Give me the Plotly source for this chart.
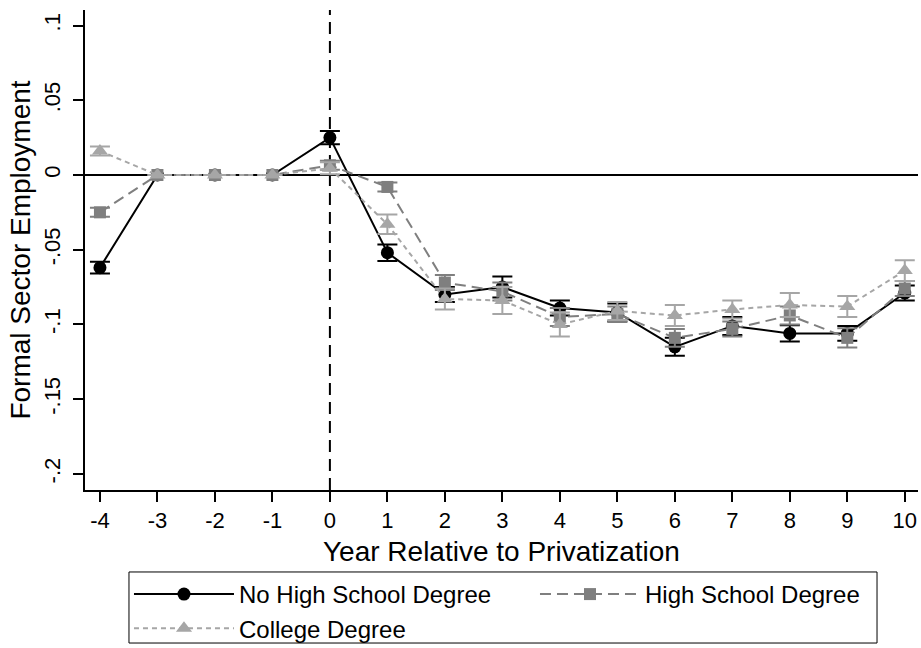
import plotly.graph_objects as go

years = [-4, -3, -2, -1, 0, 1, 2, 3, 4, 5, 6, 7, 8, 9, 10]
year_labels = ["-4", "-3", "-2", "-1", "0", "1", "2", "3", "4", "5", "6", "7", "8", "9", "10"]

nohs = [-0.062, 0, 0, 0, 0.025, -0.052, -0.080, -0.075, -0.089, -0.092, -0.115, -0.101, -0.106, -0.106, -0.079]
nohs_err = [0.004, 0, 0, 0, 0.0045, 0.0055, 0.005, 0.007, 0.005, 0.006, 0.006, 0.006, 0.0055, 0.005, 0.005]

hs = [-0.025, 0, 0, 0, 0.0065, -0.008, -0.072, -0.078, -0.095, -0.093, -0.109, -0.103, -0.094, -0.109, -0.076]
hs_err = [0.003, 0, 0, 0, 0.003, 0.003, 0.005, 0.006, 0.006, 0.005, 0.006, 0.005, 0.006, 0.0065, 0.005]

col = [0.016, 0, 0, 0, 0.0045, -0.033, -0.083, -0.084, -0.100, -0.091, -0.094, -0.090, -0.087, -0.088, -0.064]
col_err = [0.003, 0, 0, 0, 0.004, 0.0065, 0.007, 0.009, 0.008, 0.006, 0.007, 0.006, 0.008, 0.007, 0.007]

ytick_vals = [-0.2, -0.15, -0.1, -0.05, 0, 0.05, 0.1]
ytick_text = ["-.2", "-.15", "-.1", "-.05", "0", ".05", ".1"]

FONT = "Liberation Sans, Arial, sans-serif"
BLACK = "#000000"
GRAY1 = "#7f7f7f"
GRAY2 = "#a6a6a6"

fig = go.Figure()

fig.add_trace(go.Scatter(
    x=years, y=nohs, name="No High School Degree", mode="lines+markers", legend="legend",
    line=dict(color=BLACK, width=2),
    marker=dict(symbol="circle", size=13, color=BLACK),
    error_y=dict(type="data", array=nohs_err, visible=True, color=BLACK, thickness=2, width=10),
))
fig.add_trace(go.Scatter(
    x=years, y=hs, name="High School Degree", mode="lines+markers", legend="legend2",
    line=dict(color=GRAY1, width=2, dash="11px,6px"),
    marker=dict(symbol="square", size=12, color=GRAY1),
    error_y=dict(type="data", array=hs_err, visible=True, color=GRAY1, thickness=2, width=10),
))
fig.add_trace(go.Scatter(
    x=years, y=col, name="College Degree", mode="lines+markers", legend="legend",
    line=dict(color=GRAY2, width=2, dash="5px,4px"),
    marker=dict(symbol="triangle-up", size=14, color=GRAY2),
    error_y=dict(type="data", array=col_err, visible=True, color=GRAY2, thickness=2, width=10),
))

fig.add_hline(y=0, line=dict(color=BLACK, width=2), layer="below")
fig.add_vline(x=0, line=dict(color=BLACK, width=2, dash="12px,7px"), layer="below")

# legend frame
fig.add_shape(type="rect", xref="paper", yref="paper",
              x0=0.0528, x1=0.9508, y0=-0.3188, y1=-0.1708,
              line=dict(color=BLACK, width=1), fillcolor="rgba(0,0,0,0)")

legend_common = dict(
    orientation="v", yanchor="top", xanchor="left", y=-0.1708,
    bgcolor="rgba(0,0,0,0)", borderwidth=0, font=dict(size=24),
    itemwidth=100, traceorder="normal",
)

fig.update_layout(
    width=921, height=648, autosize=False,
    margin=dict(l=85, r=3, t=10, b=158, autoexpand=False),
    paper_bgcolor="white", plot_bgcolor="white",
    font=dict(family=FONT, size=22, color=BLACK),
    showlegend=True,
    legend=dict(x=0.0528, **legend_common),
    legend2=dict(x=0.5402, **legend_common),
)

fig.add_annotation(
    text="Year Relative to Privatization", xref="paper", yref="paper",
    x=0.5, y=-0.128, xanchor="center", yanchor="middle", showarrow=False,
    font=dict(size=28, family=FONT, color=BLACK),
)

fig.update_xaxes(
    range=[-4.26, 10.23], tickmode="array", tickvals=years, ticktext=year_labels,
    ticks="outside", ticklen=10, tickwidth=1.5, tickcolor=BLACK,
    showline=True, linecolor=BLACK, linewidth=1.5, showgrid=False, zeroline=False,
    tickfont=dict(size=22),
)
fig.update_yaxes(
    range=[-0.2108, 0.1104], tickmode="array", tickvals=ytick_vals, ticktext=ytick_text,
    ticks="outside", ticklen=10, tickwidth=1.5, tickcolor=BLACK, tickangle=-90,
    ticklabelstandoff=4,
    showline=True, linecolor=BLACK, linewidth=1.5, showgrid=False, zeroline=False,
    tickfont=dict(size=22),
    title=dict(text="Formal Sector Employment", font=dict(size=28), standoff=2),
)

fig.write_html("out.html")
